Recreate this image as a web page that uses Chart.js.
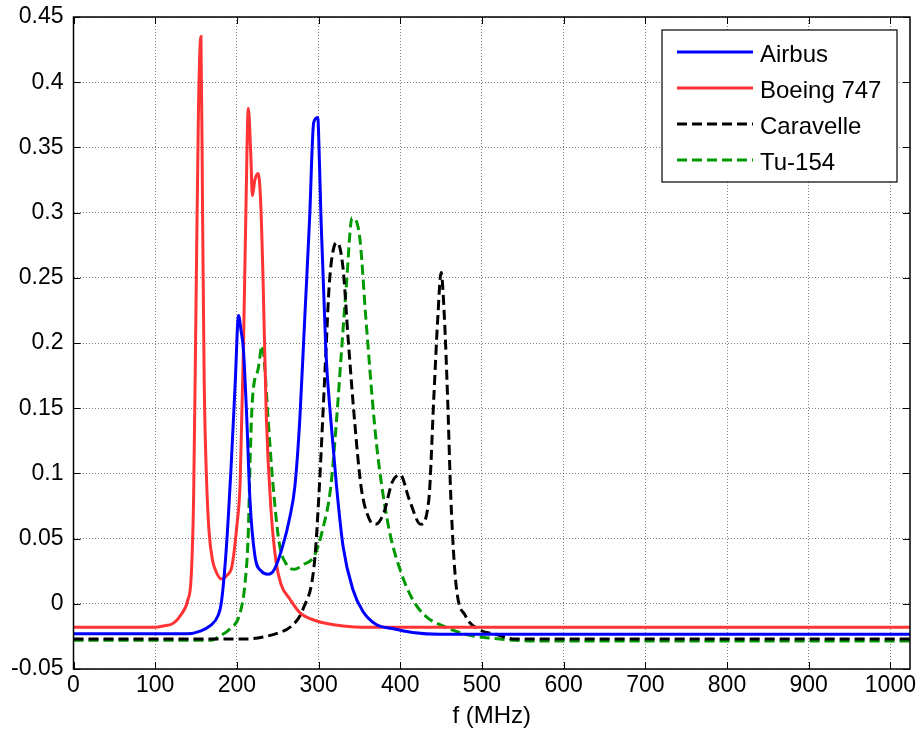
<!DOCTYPE html>
<html>
<head>
<meta charset="utf-8">
<script src="https://cdn.jsdelivr.net/npm/chart.js@4.4.1/dist/chart.umd.min.js"></script>
<style>
  html, body { margin: 0; padding: 0; background: #fff; }
  canvas { display: block; }
</style>
</head>
<body>
<canvas id="spectrumChart" width="920" height="742"></canvas>
<script>
// Frequency (MHz) and amplitude, one pair of arrays per aircraft
const airbusF = [0, 140, 155, 167, 177, 181, 187, 193, 198, 202, 205, 208, 212, 216, 222, 230, 238, 246, 256, 265, 271, 277, 283, 289, 294, 299, 301, 303, 309, 315, 322, 330, 342, 354, 370, 390, 415, 448, 1024];
const airbusV = [-0.023, -0.023, -0.021, -0.017, -0.009, 0.001, 0.042, 0.106, 0.17, 0.221, 0.21, 0.195, 0.144, 0.08, 0.037, 0.025, 0.0226, 0.0265, 0.044, 0.067, 0.09, 0.141, 0.218, 0.295, 0.369, 0.373, 0.34, 0.295, 0.193, 0.141, 0.09, 0.044, 0.011, -0.0055, -0.0157, -0.019, -0.022, -0.0234, -0.0234];

const boeingF = [0, 100, 110, 122, 132, 140, 144, 147, 150, 153, 156, 158, 160, 163, 166, 170, 175, 181, 188, 194, 200, 204, 208, 211, 214, 217, 219, 222, 226, 229, 232, 236, 242, 248, 254, 265, 277, 297, 330, 360, 1024];
const boeingV = [-0.018, -0.018, -0.017, -0.015, -0.008, 0.003, 0.02, 0.08, 0.23, 0.38, 0.435, 0.3, 0.17, 0.093, 0.055, 0.034, 0.024, 0.019, 0.022, 0.029, 0.06, 0.093, 0.195, 0.3, 0.38, 0.345, 0.313, 0.325, 0.33, 0.31, 0.25, 0.144, 0.07, 0.032, 0.015, 0.0035, -0.0067, -0.013, -0.017, -0.018, -0.018];

const caravelleF = [0, 212, 232, 252, 265, 281, 295, 301, 305, 309, 313, 319, 323, 330, 336, 344, 352, 362, 370, 380, 390, 400, 411, 425, 435, 441, 446, 450, 454, 458, 462, 468, 480, 496, 517, 540, 1024];
const caravelleV = [-0.027, -0.027, -0.0255, -0.022, -0.018, -0.004, 0.032, 0.09, 0.141, 0.193, 0.244, 0.274, 0.277, 0.257, 0.205, 0.141, 0.09, 0.065, 0.061, 0.07, 0.093, 0.099, 0.08, 0.061, 0.08, 0.157, 0.22, 0.254, 0.22, 0.157, 0.08, 0.0165, -0.0094, -0.0195, -0.0234, -0.027, -0.027];

const tuF = [0, 168, 179, 191, 204, 210, 214, 216, 218, 220, 226, 231, 234, 238, 244, 252, 261, 271, 281, 295, 305, 315, 322, 328, 334, 341, 350, 358, 368, 374, 387, 401, 415, 431, 456, 480, 505, 570, 1024];
const tuV = [-0.028, -0.028, -0.0247, -0.0196, -0.0068, 0.016, 0.055, 0.106, 0.144, 0.164, 0.18, 0.198, 0.182, 0.144, 0.093, 0.046, 0.03, 0.0265, 0.03, 0.037, 0.057, 0.09, 0.141, 0.193, 0.244, 0.296, 0.283, 0.218, 0.141, 0.106, 0.055, 0.024, 0.0035, -0.0094, -0.018, -0.0234, -0.026, -0.0285, -0.0285];

const xTicks = [0, 100, 200, 300, 400, 500, 600, 700, 800, 900, 1000];
const xTickLabels = ['0', '100', '200', '300', '400', '500', '600', '700', '800', '900', '1000'];
const yTicks = [-0.05, 0, 0.05, 0.1, 0.15, 0.2, 0.25, 0.3, 0.35, 0.4, 0.45];
const yTickLabels = ['-0.05', '0', '0.05', '0.1', '0.15', '0.2', '0.25', '0.3', '0.35', '0.4', '0.45'];

function toPoints(xs, ys) {
    return xs.map(function(x, i) { return { x: x, y: ys[i] }; });
}

function labelFor(ticks, labels, value) {
    const i = ticks.findIndex(function(t) { return Math.abs(t - value) < 1e-9; });
    return i >= 0 ? labels[i] : '';
}

const FONT = 'Arial, "Liberation Sans", sans-serif';

// MATLAB style box: frame with ticks pointing inwards, plus a boxed legend
const matlabBox = {
    id: 'matlabBox',
    afterDraw: function(chart) {
        const ctx = chart.ctx;
        const a = chart.chartArea;
        const xs = chart.scales.x, ys = chart.scales.y;
        const tl = 7;
        ctx.save();
        ctx.strokeStyle = '#000';
        ctx.lineWidth = 1;
        ctx.beginPath();
        xTicks.forEach(function(v) {
            const px = Math.round(xs.getPixelForValue(v)) + 0.5;
            ctx.moveTo(px, a.bottom); ctx.lineTo(px, a.bottom - tl);
            ctx.moveTo(px, a.top); ctx.lineTo(px, a.top + tl);
        });
        yTicks.forEach(function(v) {
            const py = Math.round(ys.getPixelForValue(v)) + 0.5;
            ctx.moveTo(a.left, py); ctx.lineTo(a.left + tl, py);
            ctx.moveTo(a.right, py); ctx.lineTo(a.right - tl, py);
        });
        ctx.stroke();
        ctx.lineWidth = 1.5;
        ctx.strokeRect(a.left, a.top, a.right - a.left, a.bottom - a.top);

        // legend
        const bw = 235, bh = 152;
        const bx = a.right - 13 - bw, by = a.top + 13;
        ctx.fillStyle = '#fff';
        ctx.fillRect(bx, by, bw, bh);
        ctx.lineWidth = 1.2;
        ctx.strokeRect(bx, by, bw, bh);
        ctx.font = '24px ' + FONT;
        ctx.textBaseline = 'middle';
        chart.data.datasets.forEach(function(ds, i) {
            const y = by + 22 + i * 36;
            ctx.beginPath();
            ctx.strokeStyle = ds.borderColor;
            ctx.lineWidth = ds.borderWidth;
            ctx.setLineDash(ds.borderDash || []);
            ctx.moveTo(bx + 15, y);
            ctx.lineTo(bx + 91, y);
            ctx.stroke();
            ctx.setLineDash([]);
            ctx.fillStyle = '#000';
            ctx.fillText(ds.label, bx + 98, y + 3);
        });
        ctx.restore();
    }
};

const ctx = document.getElementById('spectrumChart').getContext('2d');
new Chart(ctx, {
    type: 'line',
    data: {
        datasets: [
            { label: 'Airbus', data: toPoints(airbusF, airbusV), borderColor: '#0000ff', borderWidth: 3 },
            { label: 'Boeing 747', data: toPoints(boeingF, boeingV), borderColor: '#ff3333', borderWidth: 3 },
            { label: 'Caravelle', data: toPoints(caravelleF, caravelleV), borderColor: '#000000', borderWidth: 3, borderDash: [10, 5] },
            { label: 'Tu-154', data: toPoints(tuF, tuV), borderColor: '#009900', borderWidth: 3, borderDash: [10, 5] }
        ]
    },
    options: {
        responsive: false,
        animation: false,
        layout: { padding: { top: 17, right: 10, left: 0, bottom: 0 } },
        elements: {
            point: { radius: 0 },
            line: { tension: 0.35, cubicInterpolationMode: 'monotone', fill: false }
        },
        plugins: {
            legend: { display: false },
            tooltip: { enabled: false }
        },
        scales: {
            x: {
                type: 'linear',
                min: 0,
                max: 1024,
                afterBuildTicks: function(scale) {
                    scale.ticks = xTicks.map(function(v) { return { value: v }; });
                },
                afterFit: function(scale) {
                    scale.height = 73;
                    scale.paddingLeft = 0;
                    scale.paddingRight = 0;
                },
                ticks: {
                    color: '#000',
                    font: { family: FONT, size: 23 },
                    padding: 3,
                    maxRotation: 0,
                    autoSkip: false,
                    callback: function(value) { return labelFor(xTicks, xTickLabels, value); }
                },
                grid: { color: 'rgba(0,0,0,0.5)', drawTicks: false, lineWidth: 1 },
                border: { display: false, dash: [1, 2] },
                title: {
                    display: true,
                    text: 'f (MHz)',
                    color: '#000',
                    font: { family: FONT, size: 24 },
                    padding: { top: 0, bottom: 11 }
                }
            },
            y: {
                min: -0.05,
                max: 0.45,
                afterBuildTicks: function(scale) {
                    scale.ticks = yTicks.map(function(v) { return { value: v }; });
                },
                afterFit: function(scale) {
                    scale.width = 73.5;
                    scale.paddingTop = 0;
                    scale.paddingBottom = 0;
                },
                ticks: {
                    color: '#000',
                    font: { family: FONT, size: 23 },
                    padding: 10,
                    callback: function(value) { return labelFor(yTicks, yTickLabels, value); }
                },
                grid: { color: 'rgba(0,0,0,0.5)', drawTicks: false, lineWidth: 1 },
                border: { display: false, dash: [1, 2] }
            }
        }
    },
    plugins: [matlabBox]
});
</script>
</body>
</html>
